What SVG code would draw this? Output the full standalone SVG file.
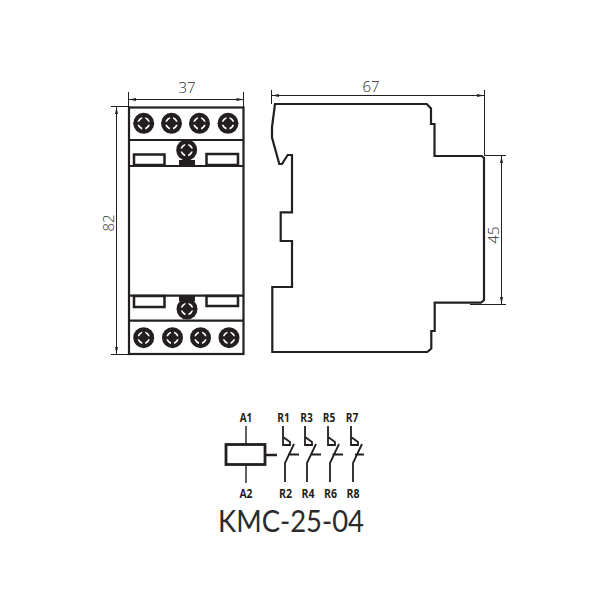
<svg xmlns="http://www.w3.org/2000/svg" width="600" height="600" viewBox="0 0 600 600">
<style>
.o{fill:none;stroke:#231f20;stroke-linejoin:miter}
.d{fill:none;stroke:#231f20;stroke-width:1}
.h{fill:#231f20;stroke:none}
.t{font-family:"Open Sans",sans-serif;font-weight:300;font-size:15px;fill:#2b2b2d;text-anchor:middle}
.l{font-family:"Open Sans",sans-serif;font-weight:700;font-size:13px;fill:#231f20;text-anchor:middle}
.s{fill:#231f20}
.c{fill:none;stroke:#fff;stroke-width:1.600}
</style>
<defs>
<g id="screw"><circle class="s" r="10.500"/><circle class="c" r="5.500"/><path d="M-7.500 0H7.500M0-7.500V7.500" stroke="#231f20" stroke-width="3"/></g>
</defs>
<g id="connectors">
<path class="d" d="M128.500 92V107M243.500 92V107M271.500 90V104M484.500 90V156M111 106.500H130M111 354.500H129M484 155.500H506M470 304.500H506"/>
<path class="d" d="M129 99.500H243.500M272 95.500H484M116.500 107V354M501.500 156V304"/>
<path class="h" d="M129 99.500l7-1.500v3zM243.500 99.500l-7-1.500v3zM272 95.500l7-1.500v3zM484 95.500l-7-1.500v3zM116.500 107l-1.500 7h3zM116.500 354l-1.500-7h3zM501.500 156l-1.500 7h3zM501.500 304l-1.500-7h3z"/>
</g>
<g id="dimension-labels">
<text class="t" x="187" y="93">37</text>
<text class="t" x="371" y="92">67</text>
<text class="t" transform="translate(114 223) rotate(-90)">82</text>
<text class="t" transform="translate(499 235) rotate(-90)">45</text>
</g>
<g id="front-view">
<rect class="o" stroke-width="2.200" x="129" y="107.500" width="114.500" height="246.500"/>
<path class="o" stroke-width="2.200" d="M129 140H243.500M129 166H243.500M129 295.700H243.500M129 320.700H243.500"/>
<path class="o" stroke-width="2.500" d="M134 154.500H164.500V165H134ZM206.500 154H238V165H206.500ZM134 296H164.500V307H134ZM206.500 296H238V306H206.500Z"/>
<rect class="s" x="179" y="160" width="16" height="6"/>
<rect class="s" x="179" y="295" width="16" height="6"/>
<use href="#screw" x="143.700" y="123.300"/>
<use href="#screw" x="171.500" y="123.300"/>
<use href="#screw" x="199.500" y="123.300"/>
<use href="#screw" x="228" y="123.300"/>
<use href="#screw" x="186.700" y="150"/>
<use href="#screw" x="187" y="309"/>
<use href="#screw" x="143.700" y="337.700"/>
<use href="#screw" x="172.500" y="337.700"/>
<use href="#screw" x="200.500" y="337.700"/>
<use href="#screw" x="229" y="337.700"/>
</g>
<g id="side-view">
<path class="o" stroke-width="2.200" d="M275 104H426.700L431 108.500V124H434.500V156H481.700L484 158V300L481 302.700H434.700V331H431.300V348.500L427.300 352H272.300V287H292V241H280.700V212.300H292V155H287.700L282 164H279.300L272 137.500V127Z"/>
</g>
<g id="coil">
<rect class="o" stroke-width="2.800" x="226" y="444.500" width="39" height="20"/>
<path class="o" stroke-width="1.400" d="M246 426V444M246 465V483"/>
<path class="o" stroke-width="2.500" d="M265 455H277"/>
<text class="l" x="246" y="421.500" textLength="12.500" lengthAdjust="spacingAndGlyphs">A1</text>
<text class="l" x="246" y="498" textLength="13" lengthAdjust="spacingAndGlyphs">A2</text>
</g>
<g id="contact-r1">
<path class="o" stroke-width="1.800" d="M283 426V445H290V442L283 437M285 482V463L294 444M288 454.500H299"/>
<text class="l" x="283.500" y="421.500" textLength="12.500" lengthAdjust="spacingAndGlyphs">R1</text>
<text class="l" x="285.500" y="498" textLength="13" lengthAdjust="spacingAndGlyphs">R2</text>
</g>
<g id="contact-r3">
<path class="o" stroke-width="1.800" d="M305 426V445H312V442L305 437M307 482V463L316 444M310.500 454.500H321"/>
<text class="l" x="306.500" y="421.500" textLength="12.500" lengthAdjust="spacingAndGlyphs">R3</text>
<text class="l" x="308" y="498" textLength="13" lengthAdjust="spacingAndGlyphs">R4</text>
</g>
<g id="contact-r5">
<path class="o" stroke-width="1.800" d="M328 426V445H335V442L328 437M330 482V463L339 444M332.500 454.500H343"/>
<text class="l" x="329" y="421.500" textLength="12.500" lengthAdjust="spacingAndGlyphs">R5</text>
<text class="l" x="330.500" y="498" textLength="13" lengthAdjust="spacingAndGlyphs">R6</text>
</g>
<g id="contact-r7">
<path class="o" stroke-width="1.800" d="M351 426V445H358V442L351 437M353 482V463L362 444M355 454.500H364"/>
<text class="l" x="352" y="421.500" textLength="12.500" lengthAdjust="spacingAndGlyphs">R7</text>
<text class="l" x="353" y="498" textLength="13" lengthAdjust="spacingAndGlyphs">R8</text>
</g>
<text id="model-name" x="291" y="532" font-family="Lato, sans-serif" font-weight="400" font-size="30" fill="#2b2b2d" text-anchor="middle" textLength="146" lengthAdjust="spacingAndGlyphs">KMC-25-04</text>
</svg>
